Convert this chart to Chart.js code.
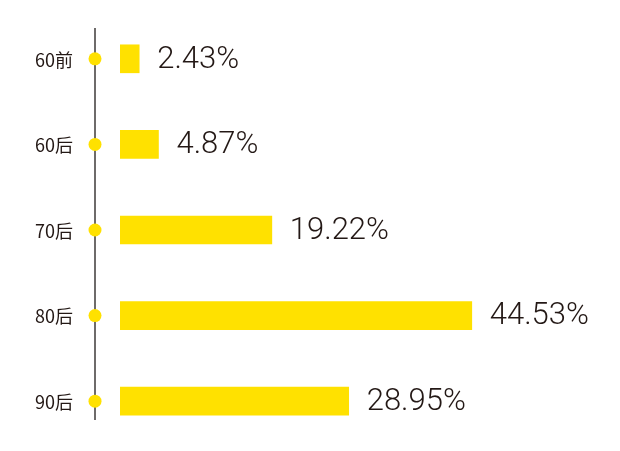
<!DOCTYPE html>
<html>
<head>
<meta charset="utf-8">
<script src="https://cdn.jsdelivr.net/npm/chart.js@4/dist/chart.umd.min.js"></script>
<style>
    html, body { margin: 0; padding: 0; background: #fff; }
    #wrap { width: 620px; height: 451px; position: relative; }
</style>
</head>
<body>
<div id="wrap"><canvas id="ageChart"></canvas></div>
<script>
const categories = ['60前', '60后', '70后', '80后', '90后'];
const shares = [2.43, 4.87, 19.22, 44.53, 28.95];
const shareLabels = ['2.43%', '4.87%', '19.22%', '44.53%', '28.95%'];

const YELLOW = '#ffe100';
const DARK = '#231815';

// timeline line, dots, category names and value labels
const timelinePlugin = {
    id: 'timeline',
    afterDatasetsDraw(chart) {
        const ctx = chart.ctx;
        const yScale = chart.scales.y;
        const lineX = 95;

        ctx.save();
        ctx.strokeStyle = '#3e3a39';
        ctx.lineWidth = 1.5;
        ctx.beginPath();
        ctx.moveTo(lineX, 28);
        ctx.lineTo(lineX, 420);
        ctx.stroke();

        categories.forEach((cat, i) => {
            const y = yScale.getPixelForValue(i);

            ctx.fillStyle = YELLOW;
            ctx.beginPath();
            ctx.arc(lineX, y, 6.5, 0, Math.PI * 2);
            ctx.fill();

            ctx.fillStyle = DARK;
            ctx.font = '400 18px "Noto Sans CJK SC", sans-serif';
            ctx.textAlign = 'right';
            ctx.textBaseline = 'middle';
            ctx.fillText(cat, 73, y + 1);
        });

        const meta = chart.getDatasetMeta(0);
        meta.data.forEach((bar, i) => {
            ctx.fillStyle = DARK;
            ctx.font = '300 31px Roboto, sans-serif';
            ctx.textAlign = 'left';
            ctx.textBaseline = 'middle';
            ctx.fillText(shareLabels[i], bar.x + 18, bar.y + 1);
        });
        ctx.restore();
    }
};

const ctx = document.getElementById('ageChart').getContext('2d');
new Chart(ctx, {
    type: 'bar',
    data: {
        labels: categories,
        datasets: [{
            data: shares,
            backgroundColor: YELLOW,
            borderWidth: 0,
            barThickness: 28
        }]
    },
    options: {
        indexAxis: 'y',
        responsive: true,
        maintainAspectRatio: false,
        animation: false,
        layout: { padding: { left: 120, right: 105, top: 16, bottom: 7 } },
        plugins: {
            legend: { display: false },
            tooltip: { enabled: false }
        },
        scales: {
            x: { display: false, min: 0, max: 50 },
            y: { display: false }
        }
    },
    plugins: [timelinePlugin]
});
</script>
</body>
</html>
